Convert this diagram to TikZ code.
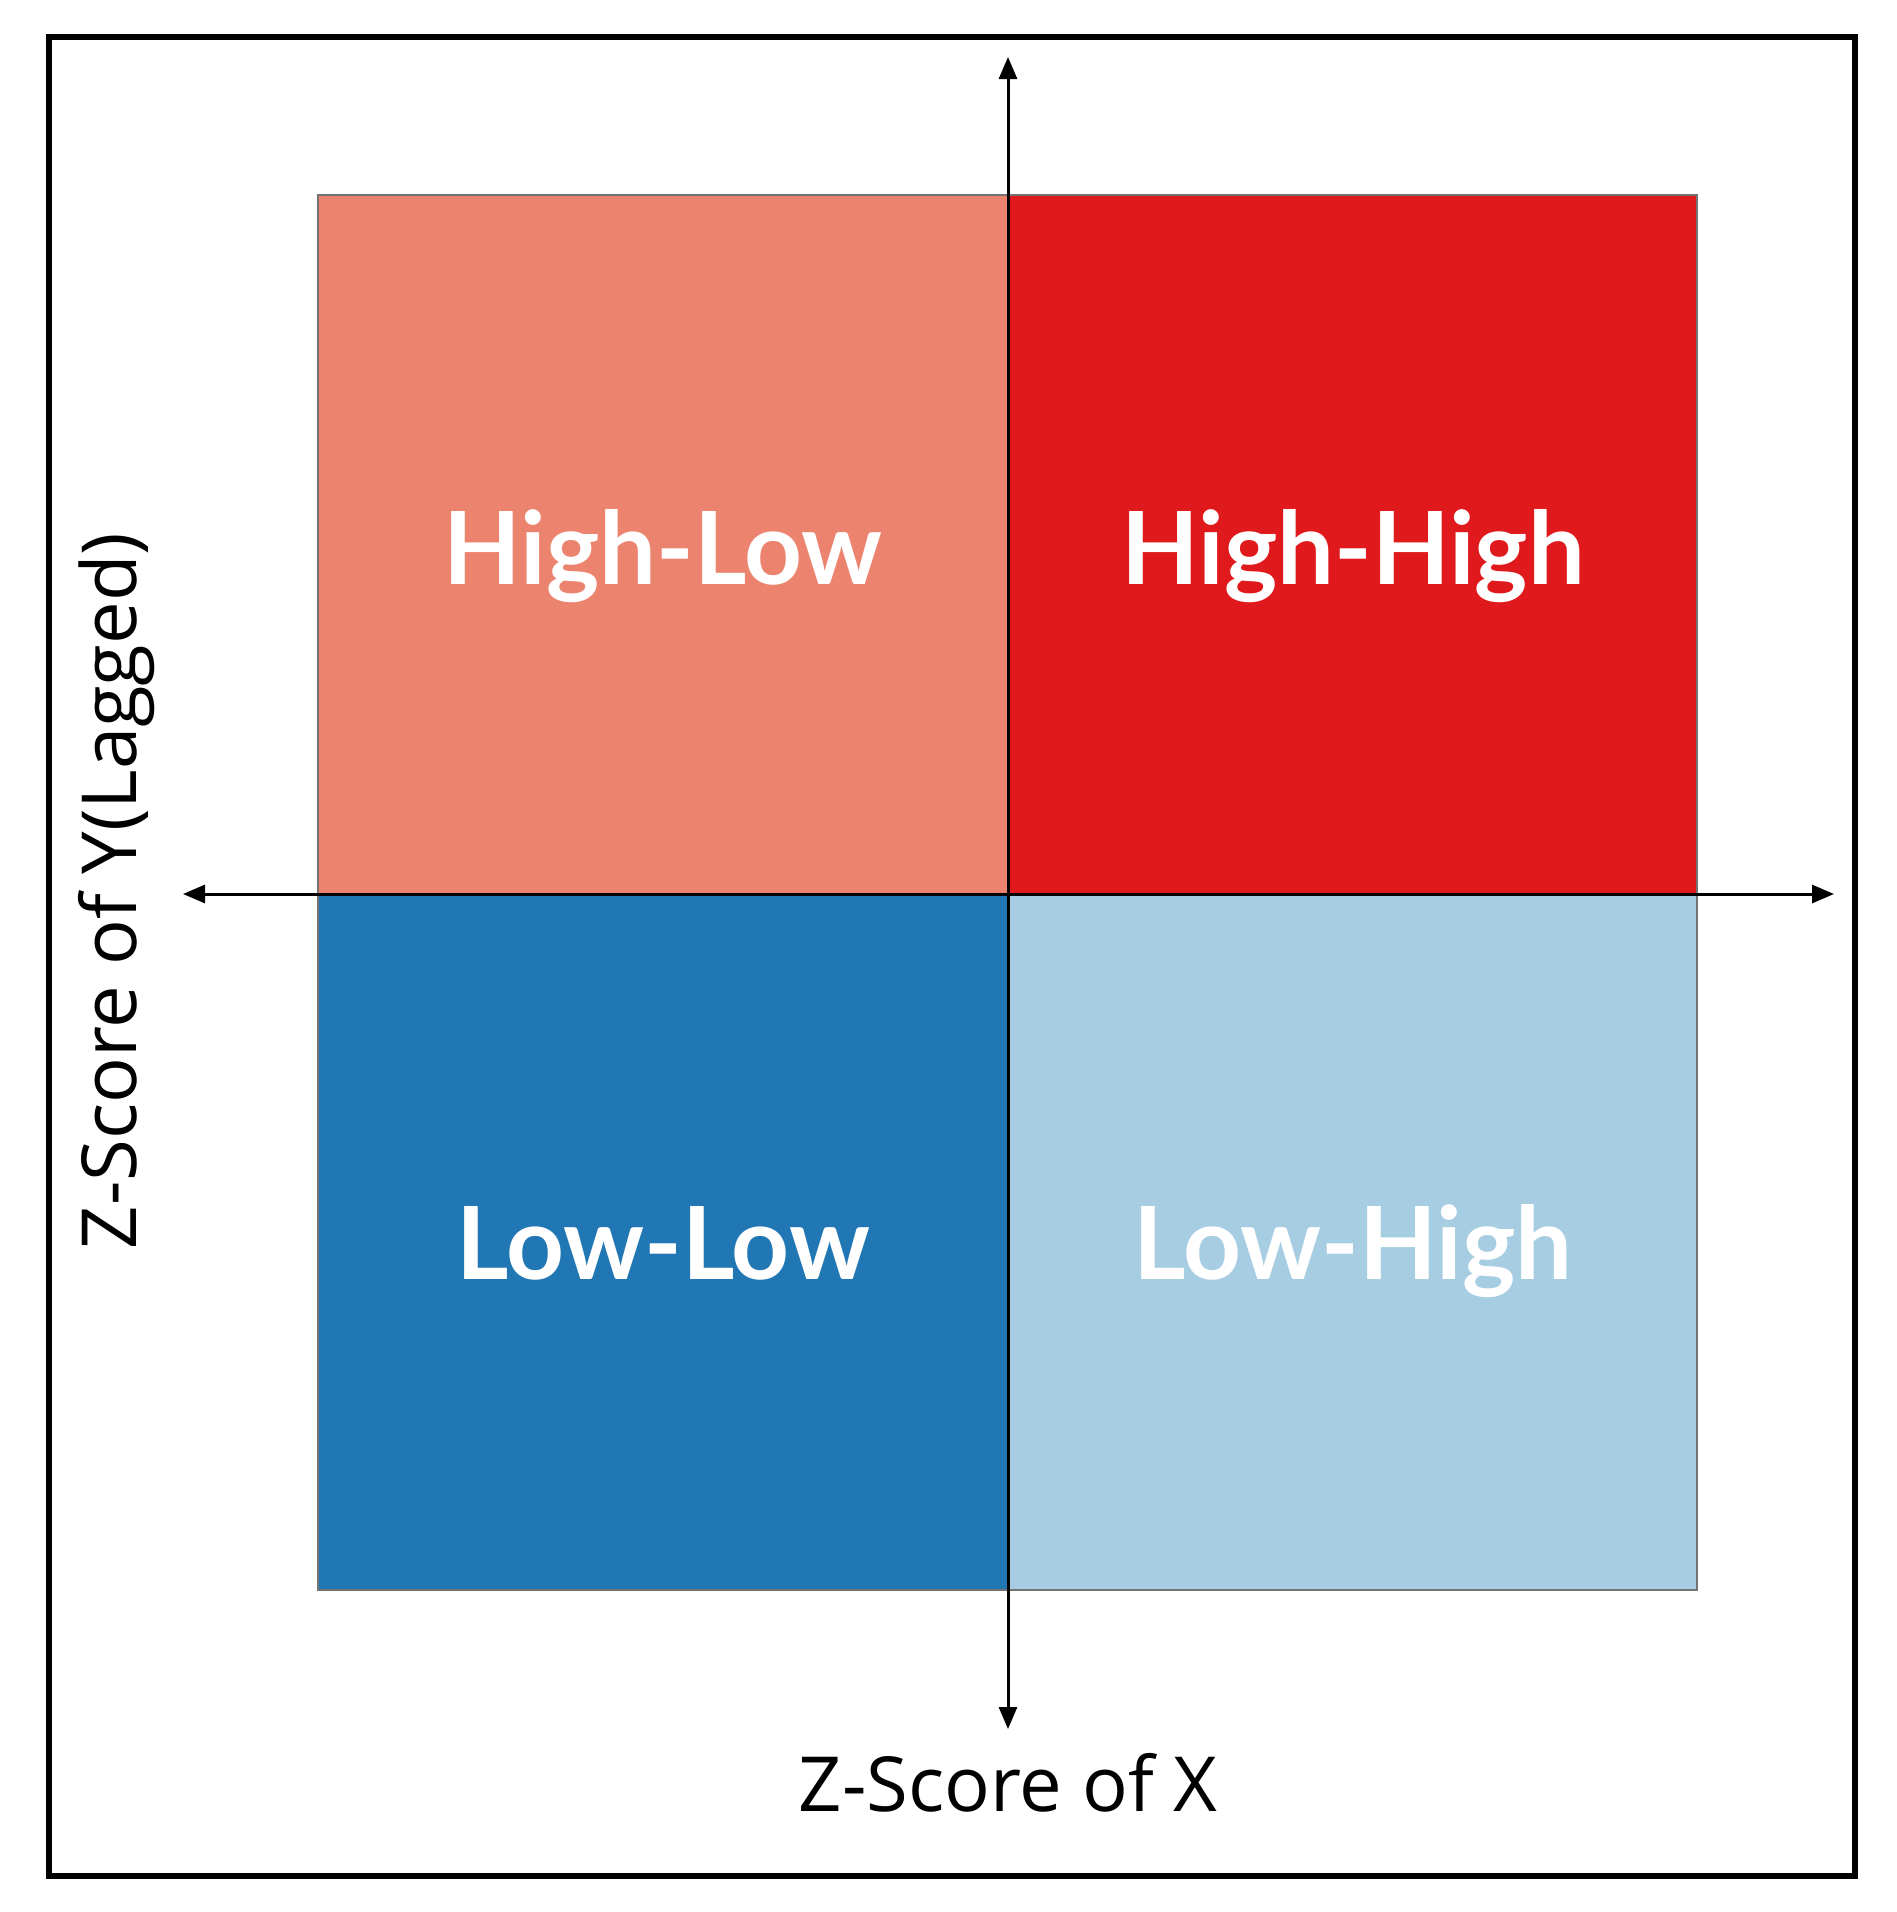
\documentclass[tikz,border=0pt]{standalone}
\usepackage{fontspec}
\setmainfont{Open Sans}
\newfontfamily\boldlab{Lato}
\usetikzlibrary{arrows.meta}
\definecolor{hlcol}{HTML}{EC836E}
\definecolor{hhcol}{HTML}{E0191C}
\definecolor{llcol}{HTML}{2077B3}
\definecolor{lhcol}{HTML}{A6CDE2}
\begin{document}
\begin{tikzpicture}[x=1pt,y=-1pt,
  quad/.style={draw=black!55,line width=1.2pt},
  qlabel/.style={text=white,font=\boldlab\bfseries\fontsize{101}{104}\selectfont,inner sep=0pt,anchor=base},
  axislab/.style={font=\fontsize{76}{80}\selectfont,inner sep=0pt},
  axisarrow/.style={line width=3pt,-{Triangle[length=22pt,width=18pt]}}]
\useasboundingbox (0,0) rectangle (1896,1912);
\draw[line width=6pt] (49,37) rectangle (1855,1876);
\fill[hlcol] (318,195) rectangle (1008,894);
\fill[hhcol] (1008,195) rectangle (1697,894);
\fill[llcol] (318,894) rectangle (1008,1590);
\fill[lhcol] (1008,894) rectangle (1697,1590);
\draw[quad] (318,195) rectangle (1697,1590);
\node[qlabel] (hl) at (663,584) {High-Low};
\node[qlabel] (hh) at (1353,584) {High-High};
\node[qlabel] (ll) at (663,1279) {Low-Low};
\node[qlabel] (lh) at (1353,1279) {Low-High};
\coordinate (o) at (1008,894);
\coordinate (top) at (1008,57);
\coordinate (bot) at (1008,1729);
\coordinate (lft) at (183,894);
\coordinate (rgt) at (1834,894);
\draw[axisarrow] (o) -- (top);
\draw[axisarrow] (o) -- (bot);
\draw[axisarrow] (o) -- (lft);
\draw[axisarrow] (o) -- (rgt);
\node[axislab] (xl) at (1008,1783) {Z-Score of X};
\node[axislab,rotate=90] (yl) at (117,891) {Z-Score of Y(Lagged)};
\end{tikzpicture}
\end{document}
